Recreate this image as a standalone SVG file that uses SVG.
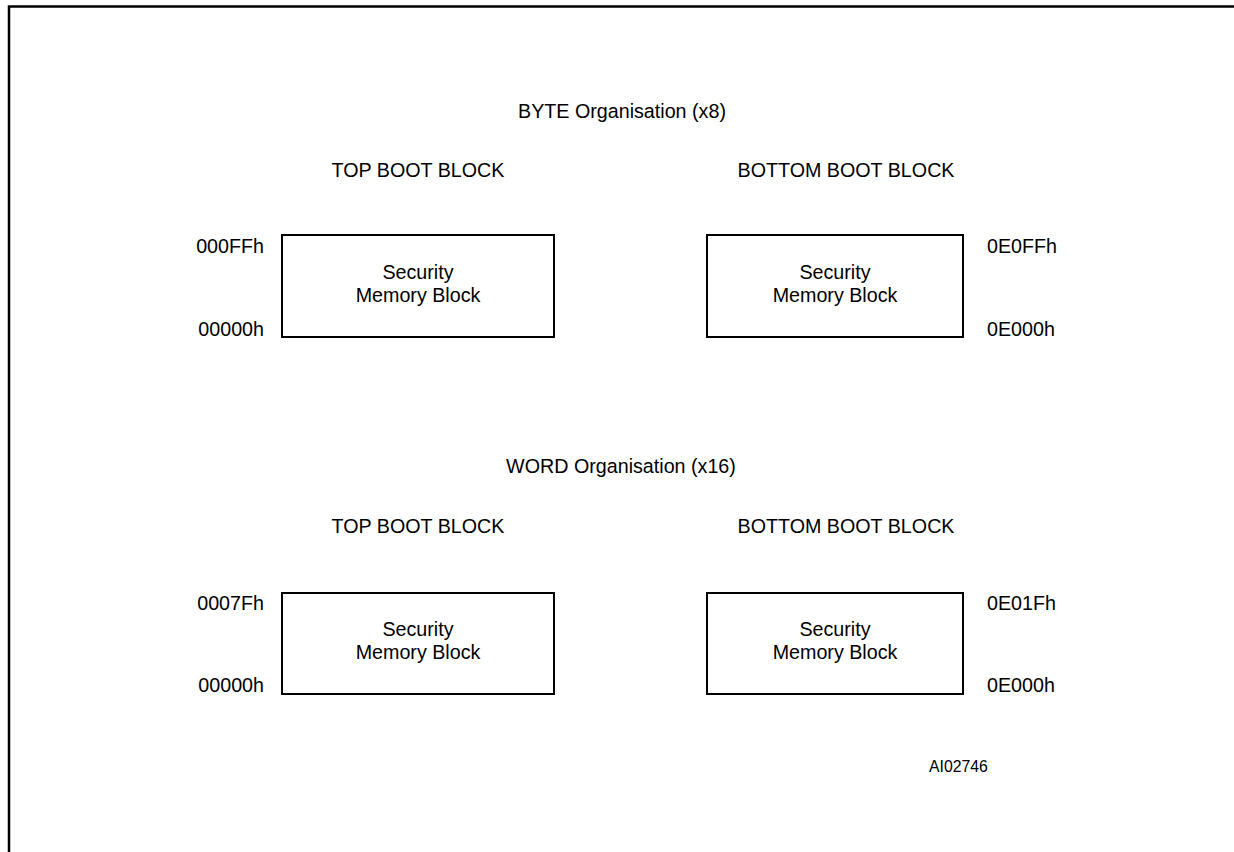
<svg xmlns="http://www.w3.org/2000/svg" width="1234" height="852" viewBox="0 0 1234 852">
<style>
text{font-family:"Liberation Sans",Arial,sans-serif;fill:#000}
.t{font-size:19.7px;text-anchor:middle}
.l{font-size:19.7px}
.e{text-anchor:end}
.blk{fill:#fff;stroke:#000;stroke-width:2}
.frame{fill:none;stroke:#000;stroke-width:2.5}
</style>
<rect width="1234" height="852" fill="#fff"/>
<path class="frame" d="M1234,6.5 H9 V852"/>
<text class="t" x="622" y="118">BYTE Organisation (x8)</text>
<text class="t" x="418" y="177">TOP BOOT BLOCK</text>
<text class="t" x="846" y="177">BOTTOM BOOT BLOCK</text>
<g id="byte-top">
<rect class="blk" x="282" y="235" width="272" height="102"/>
<text class="t" x="418" y="279">Security</text>
<text class="t" x="418" y="302">Memory Block</text>
<text class="l e" x="264" y="253">000FFh</text>
<text class="l e" x="264" y="336">00000h</text>
</g>
<g id="byte-bottom">
<rect class="blk" x="707" y="235" width="256" height="102"/>
<text class="t" x="835" y="279">Security</text>
<text class="t" x="835" y="302">Memory Block</text>
<text class="l" x="987" y="253">0E0FFh</text>
<text class="l" x="987" y="336">0E000h</text>
</g>
<text class="t" x="621" y="473">WORD Organisation (x16)</text>
<text class="t" x="418" y="533">TOP BOOT BLOCK</text>
<text class="t" x="846" y="533">BOTTOM BOOT BLOCK</text>
<g id="word-top">
<rect class="blk" x="282" y="593" width="272" height="101"/>
<text class="t" x="418" y="636">Security</text>
<text class="t" x="418" y="659">Memory Block</text>
<text class="l e" x="264" y="610">0007Fh</text>
<text class="l e" x="264" y="692">00000h</text>
</g>
<g id="word-bottom">
<rect class="blk" x="707" y="593" width="256" height="101"/>
<text class="t" x="835" y="636">Security</text>
<text class="t" x="835" y="659">Memory Block</text>
<text class="l" x="987" y="610">0E01Fh</text>
<text class="l" x="987" y="692">0E000h</text>
</g>
<g id="connectors"></g>
<text x="929" y="772" style="font-size:15.8px">AI02746</text>
</svg>
